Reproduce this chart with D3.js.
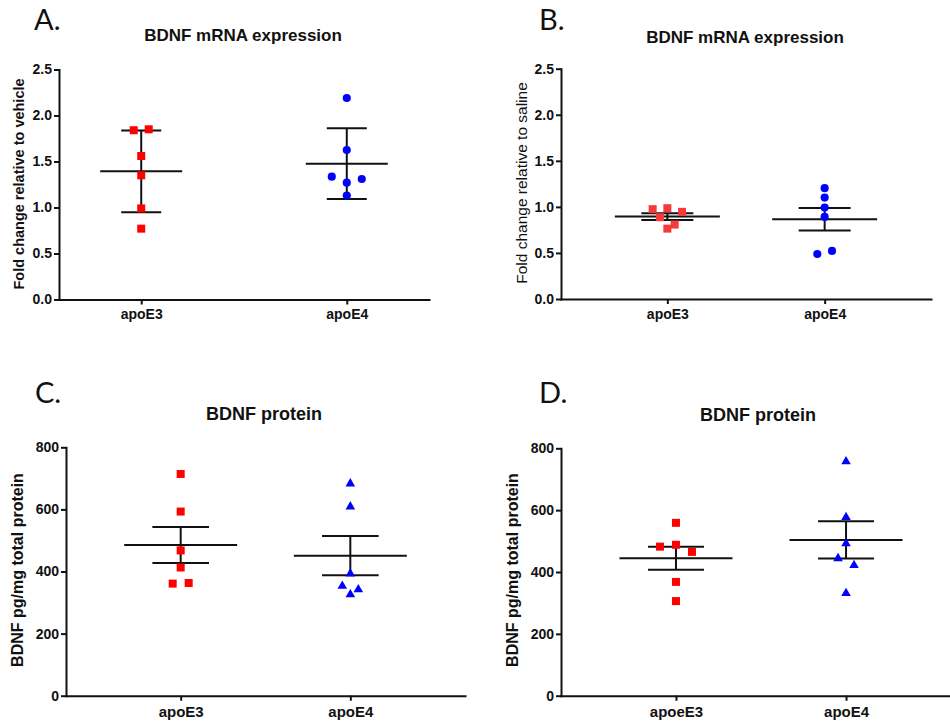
<!DOCTYPE html>
<html>
<head>
<meta charset="utf-8">
<script src="https://cdn.jsdelivr.net/npm/d3@7"></script>
<style>
  body { margin: 0; background: #fff; }
  svg { display: block; }
</style>
</head>
<body>
<svg id="chart"></svg>
<script>
// group names
const groupsABC = ['apoE3', 'apoE4'];
const groupsD = ['apoeE3', 'apoE4'];

// A. BDNF mRNA, fold change relative to vehicle
const mrnaVehicleE3 = [1.84, 1.85, 1.56, 1.35, 0.99, 0.77];
const mrnaVehicleE4 = [2.19, 1.625, 1.335, 1.27, 1.31, 1.13];

// B. BDNF mRNA, fold change relative to saline
const mrnaSalineE3 = [0.975, 0.986, 0.946, 0.888, 0.808, 0.764];
const mrnaSalineE4 = [1.203, 1.101, 0.992, 0.891, 0.489, 0.522];

// C. BDNF protein (pg/mg total protein)
const proteinCE3 = [714, 593, 468, 413, 361, 363];
const proteinCE4 = [683, 609, 393, 353, 342, 326];

// D. BDNF protein (pg/mg total protein)
const proteinDE3 = [559, 482, 488, 465, 368, 306];
const proteinDE4 = [757, 577, 492, 444, 422, 331];

// axis ticks
const foldTicks = [0, 0.5, 1.0, 1.5, 2.0, 2.5];
const proteinTicks = [0, 200, 400, 600, 800];

const width = 950, height = 723;
const font = "'Liberation Sans', Arial, sans-serif";

const svg = d3.select('#chart')
  .attr('width', width)
  .attr('height', height);

// spread points that sit at about the same height into a centred row
function dodge(values, y, rowPx, spacing) {
  const idx = d3.range(values.length).sort((a, b) => values[b] - values[a]);
  const offsets = new Array(values.length).fill(0);
  let i = 0;
  while (i < idx.length) {
    const start = y(values[idx[i]]);
    let j = i;
    while (j < idx.length && y(values[idx[j]]) - start < rowPx) j++;
    const row = idx.slice(i, j).sort((a, b) => a - b);
    row.forEach((k, n) => { offsets[k] = (n - (row.length - 1) / 2) * spacing; });
    i = j;
  }
  return offsets;
}

function drawPanel(p) {
  const g = svg.append('g');

  const y = d3.scaleLinear().domain(p.yDomain).range([p.bottom, p.top]);
  const x = d3.scalePoint().domain(p.groups).range([p.left, p.right]).padding(p.pad);

  // panel letter
  g.append('text')
    .attr('x', p.letterX)
    .attr('y', p.letterY)
    .style('font-family', "Lato, 'Open Sans', sans-serif")
    .style('font-size', '29px')
    .style('fill', '#111')
    .text(p.letter);

  // title
  g.append('text')
    .attr('x', p.titleX)
    .attr('y', p.titleY)
    .attr('text-anchor', 'middle')
    .style('font-family', font)
    .style('font-weight', 'bold')
    .style('font-size', p.titleSize + 'px')
    .style('fill', '#111')
    .text(p.title);

  // y axis
  const yAxis = g.append('g')
    .attr('transform', `translate(${p.left},0)`)
    .call(d3.axisLeft(y)
      .tickValues(p.ticks)
      .tickFormat(p.fmt)
      .tickSize(5)
      .tickSizeOuter(0)
      .tickPadding(2));

  // x axis
  const xAxis = g.append('g')
    .attr('transform', `translate(0,${p.bottom})`)
    .call(d3.axisBottom(x)
      .tickSize(5)
      .tickSizeOuter(0)
      .tickPadding(p.xPad));

  [yAxis, xAxis].forEach(a => {
    a.select('.domain').attr('stroke', '#111').attr('stroke-width', 2).attr('stroke-linecap', 'square');
    a.selectAll('.tick line').attr('stroke', '#111').attr('stroke-width', 2);
    a.selectAll('.tick text')
      .attr('fill', '#111')
      .style('font-family', font)
      .style('font-weight', 'bold');
  });
  yAxis.selectAll('.tick text').style('font-size', p.tickSize + 'px');
  xAxis.selectAll('.tick text').style('font-size', p.xLabelSize + 'px');

  // y axis label
  g.append('text')
    .attr('transform', `translate(${p.yLabelX},${p.yLabelY}) rotate(-90)`)
    .attr('text-anchor', 'middle')
    .attr('dominant-baseline', 'central')
    .style('font-family', font)
    .style('font-weight', p.yLabelWeight)
    .style('font-size', p.yLabelSize + 'px')
    .style('fill', '#111')
    .text(p.yLabel);

  p.series.forEach((s, i) => {
    const cx = x(p.groups[i]);
    const mean = d3.mean(s.values);
    const sd = d3.deviation(s.values);
    const err = p.error === 'sd' ? sd : sd / Math.sqrt(s.values.length);
    const lines = g.append('g').attr('stroke', '#111').attr('stroke-width', 2);

    // mean line
    lines.append('line')
      .attr('x1', cx - p.meanHalf).attr('x2', cx + p.meanHalf)
      .attr('y1', y(mean)).attr('y2', y(mean));
    // error bar
    lines.append('line')
      .attr('x1', cx).attr('x2', cx)
      .attr('y1', y(mean + err)).attr('y2', y(mean - err));
    [mean + err, mean - err].forEach(v => {
      lines.append('line')
        .attr('x1', cx - p.capHalf).attr('x2', cx + p.capHalf)
        .attr('y1', y(v)).attr('y2', y(v));
    });

    // points
    const offsets = dodge(s.values, y, 8, p.spacing);
    const sym = d3.symbol().type(s.shape).size(s.size);
    g.append('g')
      .selectAll('path')
      .data(s.values)
      .join('path')
      .attr('transform', (d, k) => `translate(${cx + offsets[k]},${y(d)})`)
      .attr('d', sym)
      .attr('fill', s.color);
  });
}

const fold = d3.format('.1f');
const whole = d3.format('d');

drawPanel({
  letter: 'A.', letterX: 34, letterY: 30,
  title: 'BDNF mRNA expression', titleX: 243, titleY: 41, titleSize: 17,
  left: 59, right: 429, top: 69.5, bottom: 299.5, pad: 0.4,
  yDomain: [0, 2.5], ticks: foldTicks, fmt: fold, tickSize: 14,
  groups: groupsABC, xPad: 5, xLabelSize: 14,
  yLabel: 'Fold change relative to vehicle', yLabelX: 19, yLabelY: 184,
  yLabelSize: 14.5, yLabelWeight: 'bold',
  error: 'sd', meanHalf: 41, capHalf: 20, spacing: 15,
  series: [
    { values: mrnaVehicleE3, shape: d3.symbolSquare, size: 64, color: '#ff0000' },
    { values: mrnaVehicleE4, shape: d3.symbolCircle, size: 52, color: '#0000ff' }
  ]
});

drawPanel({
  letter: 'B.', letterX: 539, letterY: 30,
  title: 'BDNF mRNA expression', titleX: 745, titleY: 43, titleSize: 17,
  left: 561, right: 931, top: 68.7, bottom: 299, pad: 0.676,
  yDomain: [0, 2.5], ticks: foldTicks, fmt: fold, tickSize: 14,
  groups: groupsABC, xPad: 5, xLabelSize: 14,
  yLabel: 'Fold change relative to saline', yLabelX: 521, yLabelY: 183,
  yLabelSize: 15.5, yLabelWeight: 'normal',
  error: 'sem', meanHalf: 52.5, capHalf: 26, spacing: 14.7,
  series: [
    { values: mrnaSalineE3, shape: d3.symbolSquare, size: 64, color: '#f43a3a' },
    { values: mrnaSalineE4, shape: d3.symbolCircle, size: 52, color: '#0000ff' }
  ]
});

drawPanel({
  letter: 'C.', letterX: 35, letterY: 403,
  title: 'BDNF protein', titleX: 264, titleY: 420, titleSize: 18,
  left: 66, right: 465, top: 447.3, bottom: 695.7, pad: 0.676,
  yDomain: [0, 800], ticks: proteinTicks, fmt: whole, tickSize: 14,
  groups: groupsABC, xPad: 6, xLabelSize: 15,
  yLabel: 'BDNF pg/mg total protein', yLabelX: 17, yLabelY: 570,
  yLabelSize: 16, yLabelWeight: 'bold',
  error: 'sem', meanHalf: 56.5, capHalf: 28.3, spacing: 16,
  series: [
    { values: proteinCE3, shape: d3.symbolSquare, size: 64, color: '#ff0000' },
    { values: proteinCE4, shape: d3.symbolTriangle, size: 40, color: '#0000ff' }
  ]
});

drawPanel({
  letter: 'D.', letterX: 539, letterY: 403,
  title: 'BDNF protein', titleX: 758, titleY: 421, titleSize: 18,
  left: 561, right: 961, top: 448.3, bottom: 695.7, pad: 0.676,
  yDomain: [0, 800], ticks: proteinTicks, fmt: whole, tickSize: 14,
  groups: groupsD, xPad: 6, xLabelSize: 15,
  yLabel: 'BDNF pg/mg total protein', yLabelX: 512, yLabelY: 570,
  yLabelSize: 16, yLabelWeight: 'bold',
  error: 'sem', meanHalf: 56.5, capHalf: 28, spacing: 16,
  series: [
    { values: proteinDE3, shape: d3.symbolSquare, size: 64, color: '#ff0000' },
    { values: proteinDE4, shape: d3.symbolTriangle, size: 40, color: '#0000ff' }
  ]
});
</script>
</body>
</html>
